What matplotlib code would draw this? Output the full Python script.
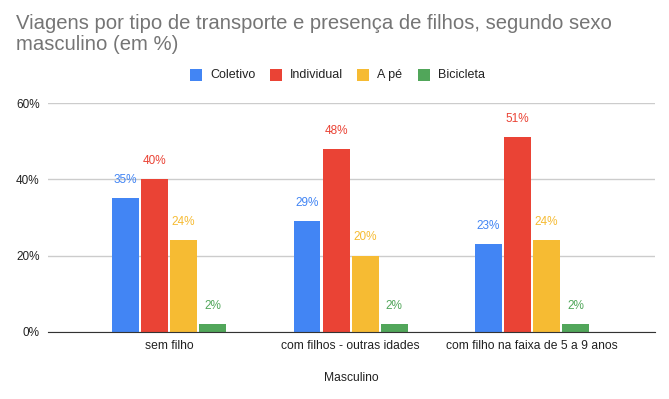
import matplotlib.pyplot as plt
import numpy as np
from matplotlib.patches import Rectangle

plt.rcParams['font.family'] = ['Liberation Sans', 'DejaVu Sans']

categories = ['sem filho', 'com filhos - outras idades', 'com filho na faixa de 5 a 9 anos']
series = ['Coletivo', 'Individual', 'A pé', 'Bicicleta']
coletivo = [35, 29, 23]
individual = [40, 48, 51]
a_pe = [24, 20, 24]
bicicleta = [2, 2, 2]
colors = ['#4285F4', '#EA4335', '#F6BB33', '#51A65A']

values = [coletivo, individual, a_pe, bicicleta]

W, H = 669, 399
fig = plt.figure(figsize=(W / 100, H / 100), dpi=100)
ax = fig.add_axes([48 / W, 1 - 332 / H, 607 / W, 229 / H])

x = np.arange(len(categories))
step = 0.16
width = 0.148
for i, (name, vals, c) in enumerate(zip(series, values, colors)):
    pos = x + (i - 1.5) * step
    ax.bar(pos, vals, width, color=c, label=name, zorder=3)
    for p, v in zip(pos, vals):
        ax.text(p, v + 3.2, f'{v}%', ha='center', va='bottom', color=c, fontsize=8.5)

ax.set_xlim(-0.667, 2.677)
ax.set_ylim(0, 60)
ax.set_yticks([0, 20, 40, 60])
ax.set_yticklabels(['0%', '20%', '40%', '60%'], fontsize=8.5, color='#222222')
ax.set_xticks(x)
ax.set_xticklabels(categories, fontsize=8.7, color='#222222')
ax.tick_params(length=0, pad=6)
ax.tick_params(axis='x', pad=6)
ax.grid(axis='y', color='#cccccc', linewidth=1, zorder=0)
for s in ['top', 'right', 'left']:
    ax.spines[s].set_visible(False)
ax.spines['bottom'].set_color('#333333')
ax.spines['bottom'].set_zorder(4)
ax.set_xlabel('Masculino', fontsize=8.7, color='#222222', labelpad=14)

fig.text(16 / W, 1 - 14 / H, 'Viagens por tipo de transporte e presença de filhos, segundo sexo\nmasculino (em %)',
         fontsize=14.6, color='#757575', ha='left', va='top', linespacing=1.1)

# legend drawn by hand to match the spacing
leg_x = [190, 270, 357, 418]
leg_y = 75
for lx, name, c in zip(leg_x, series, colors):
    fig.patches.append(Rectangle((lx / W, 1 - (leg_y + 6) / H), 12 / W, 12 / H,
                                 transform=fig.transFigure, facecolor=c, edgecolor='none'))
    fig.text((lx + 20) / W, 1 - leg_y / H, name, fontsize=9, color='#222222', ha='left', va='center')

fig.savefig('out.png', dpi=100)
